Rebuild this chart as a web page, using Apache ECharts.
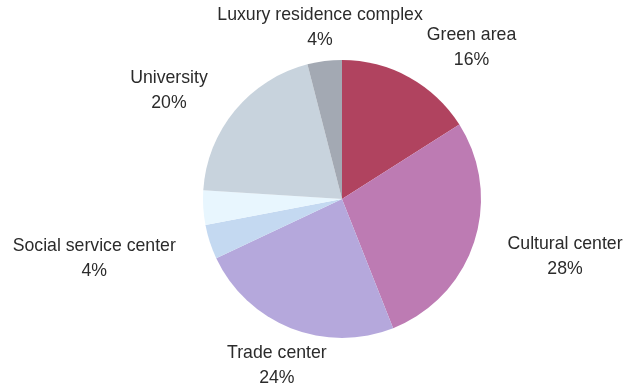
<!DOCTYPE html>
<html>
<head>
<meta charset="utf-8">
<script src="https://cdn.jsdelivr.net/npm/echarts@6/dist/echarts.min.js"></script>
<style>
  html, body { margin: 0; padding: 0; background: #ffffff; }
  #chart { width: 627px; height: 388px; }
</style>
</head>
<body>
<div id="chart"></div>
<script>
// Land use shares (percent)
const categories = [
  'Green area',
  'Cultural center',
  'Trade center',
  'Social service center',
  'Other',
  'University',
  'Luxury residence complex'
];
const shares = [16, 28, 24, 4, 4, 20, 4];
const showLabel = [true, true, true, true, false, true, true];

// Styling
const sliceColors = ['#b0435f', '#bd7bb3', '#b5a8dc', '#c4d9f1', '#e8f6fe', '#c8d3dd', '#a3a9b3'];
const labelAngleShift = [2, -4, 0, 5, 0, -7, 0]; // degrees, per label
const labelRadialShift = [0, 0, 0, 0, 0, 9, 0];  // px, per label

const CX = 342, CY = 199, RADIUS = 139;
const FONT_SIZE = 17.7, LINE_H = 25;
const LABEL_R = 150, PAD_X = 20, TEXT_DY = 2;
const FONT_FAMILY = '"Liberation Sans", Arial, sans-serif';

const total = shares.reduce((a, b) => a + b, 0);

// Measure label text so boxes can be placed just outside the pie
const ctx = document.createElement('canvas').getContext('2d');
ctx.font = FONT_SIZE + 'px ' + FONT_FAMILY;
function pctText(v) { return +(v / total * 100).toFixed(0) + '%'; }

const labelBoxes = [];
let acc = 0;
shares.forEach((v, i) => {
  const mid = (acc + v / 2) / total * 360 + labelAngleShift[i];
  acc += v;
  if (!showLabel[i]) { labelBoxes.push(null); return; }
  const a = mid * Math.PI / 180;
  const dx = Math.sin(a), dy = -Math.cos(a);
  const w = Math.max(ctx.measureText(categories[i]).width, ctx.measureText(pctText(v)).width);
  const h = LINE_H * 2;
  const ex = Math.abs(dx) > 1e-6 ? (w / 2 + PAD_X) / Math.abs(dx) : Infinity;
  const ey = Math.abs(dy) > 1e-6 ? (h / 2) / Math.abs(dy) : Infinity;
  const d = LABEL_R + labelRadialShift[i] + Math.min(ex, ey);
  labelBoxes.push({ i, dx, dy, w, h, x: CX + dx * d, y: CY + dy * d });
});

// Resolve overlaps: most vertical labels keep their place, others slide outward
const order = labelBoxes.filter(Boolean).sort((p, q) => Math.abs(q.dy) - Math.abs(p.dy));
const placed = [];
order.forEach(b => {
  for (let k = 0; k < 5; k++) {
    const hit = placed.find(o =>
      Math.abs(o.x - b.x) < (o.w + b.w) / 2 + 4 &&
      Math.abs(o.y - b.y) < (o.h + b.h) / 2);
    if (!hit) break;
    if (b.dx >= 0) b.x = hit.x + hit.w / 2 + 4 + b.w / 2;
    else b.x = hit.x - hit.w / 2 - 4 - b.w / 2;
  }
  placed.push(b);
});

const chart = echarts.init(document.getElementById('chart'), null, { renderer: 'canvas' });
chart.setOption({
  animation: false,
  backgroundColor: '#ffffff',
  series: [{
    type: 'pie',
    center: [CX, CY],
    radius: RADIUS,
    startAngle: 90,
    clockwise: true,
    avoidLabelOverlap: false,
    itemStyle: { borderWidth: 0 },
    emphasis: { disabled: true },
    label: {
      show: true,
      position: 'outside',
      formatter: '{b}\n{d}%',
      fontFamily: FONT_FAMILY,
      fontSize: FONT_SIZE,
      lineHeight: LINE_H,
      color: '#2b2b2b',
      align: 'center'
    },
    labelLine: { show: false },
    labelLayout: function (params) {
      const b = labelBoxes[params.dataIndex];
      if (!b) return {};
      return { x: b.x, y: b.y + TEXT_DY, align: 'center', verticalAlign: 'middle' };
    },
    data: categories.map((name, i) => ({
      name: name,
      value: shares[i],
      itemStyle: { color: sliceColors[i] },
      label: { show: showLabel[i] }
    }))
  }]
});
</script>
</body>
</html>
